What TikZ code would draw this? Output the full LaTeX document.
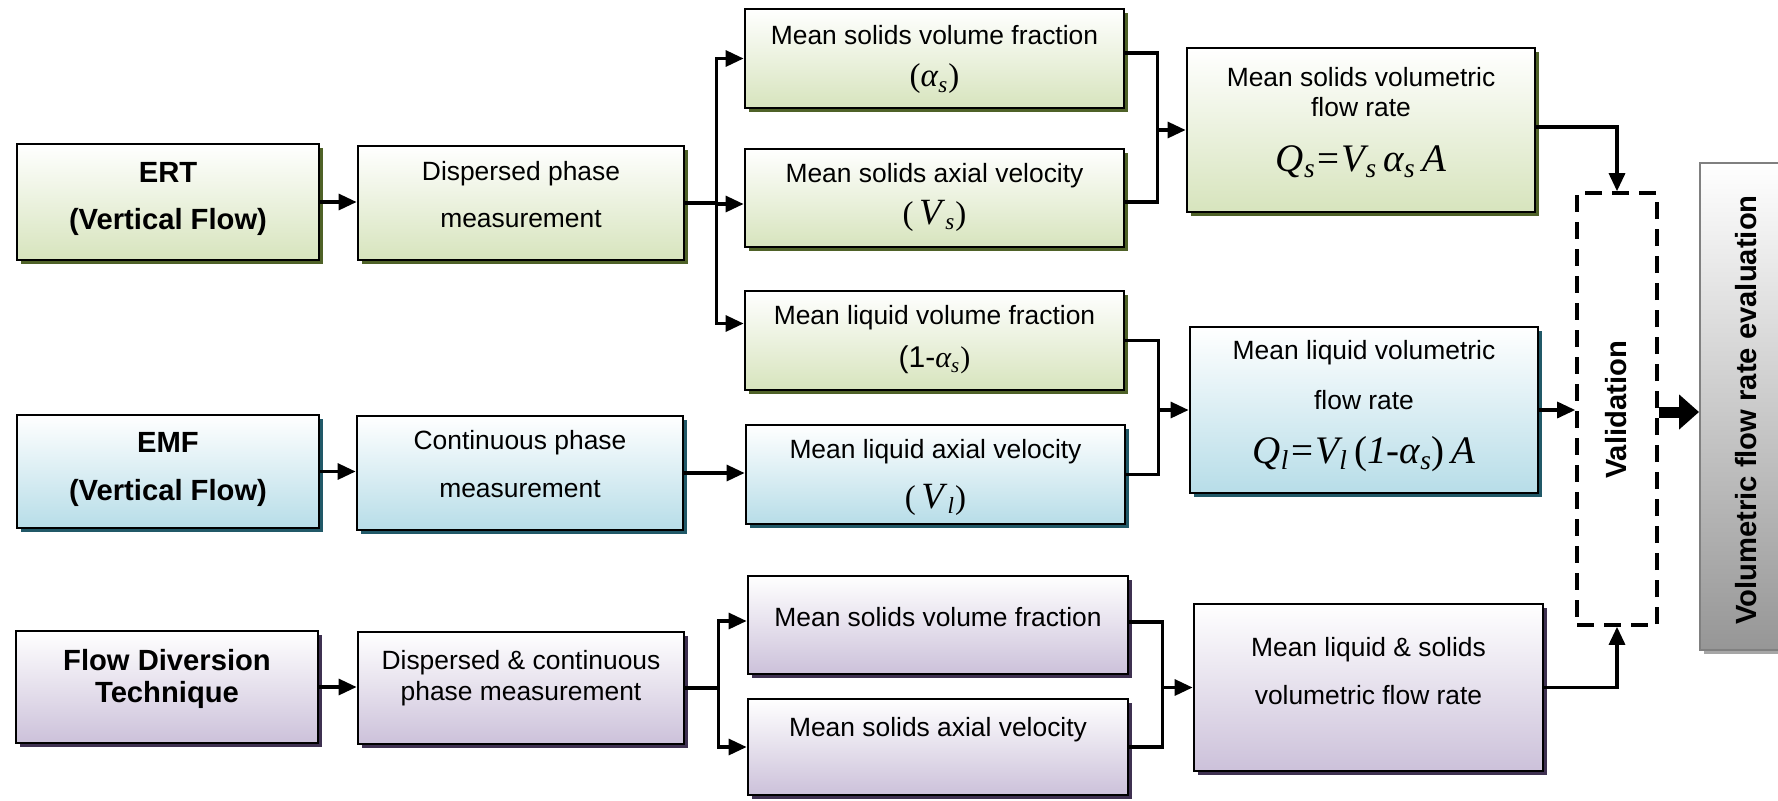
\documentclass[tikz,border=0pt]{standalone}
\usepackage{fontspec}
\setmainfont{Liberation Sans}
\newfontfamily\eqfont{Liberation Serif}
\usetikzlibrary{arrows.meta,fit,shadows}

\definecolor{grnfill}{HTML}{D7E4BD}
\definecolor{grnshad}{HTML}{4F6228}
\definecolor{blufill}{HTML}{B7DDE8}
\definecolor{blushad}{HTML}{215968}
\definecolor{purfill}{HTML}{CCC1DA}
\definecolor{purshad}{HTML}{3F3151}
\definecolor{gryfill}{HTML}{969696}
\definecolor{gryline}{HTML}{808080}
\definecolor{gryshad}{HTML}{A6A6A6}

\newcommand\sbs[1]{\textsubscript{#1}}

\tikzset{
  panel/.style={draw=black, line width=1.4pt, inner sep=0pt},
  greenbox/.style={panel, top color=white, bottom color=grnfill,
    drop shadow={shadow xshift=2pt, shadow yshift=-2pt, fill=grnshad, opacity=1}},
  bluebox/.style={panel, top color=white, bottom color=blufill,
    drop shadow={shadow xshift=2pt, shadow yshift=-2pt, fill=blushad, opacity=1}},
  purplebox/.style={panel, top color=white, bottom color=purfill,
    drop shadow={shadow xshift=2pt, shadow yshift=-2pt, fill=purshad, opacity=1}},
  greybox/.style={draw=gryline, line width=1pt, inner sep=0pt, top color=white, bottom color=gryfill,
    drop shadow={shadow xshift=2pt, shadow yshift=-2pt, fill=gryshad, opacity=1}},
  dashbox/.style={draw=black, line width=1.8pt, dash pattern=on 8.5pt off 5pt, inner sep=0pt},
  txt/.style={inner sep=0pt, font=\fontsize{13.2}{16}\selectfont},
  btxt/.style={inner sep=0pt, font=\fontsize{14.6}{17}\selectfont\bfseries},
  eqtxt/.style={inner sep=0pt, font=\fontsize{19.5}{22}\selectfont\eqfont\itshape},
  symtxt/.style={inner sep=0pt, font=\fontsize{16.5}{19}\selectfont\eqfont},
  wire/.style={line width=1.6pt},
  conn/.style={wire, -{Triangle[length=9pt,width=8pt]}},
  bigarrow/.style={line width=5.5pt, -{Triangle[length=10pt,width=17pt]}},
}

\begin{document}
\begin{tikzpicture}[x=0.5pt, y=-0.5pt]
\useasboundingbox (0,0) rectangle (1778,800);
\clip (0,0) rectangle (1778,800);

% ---- boxes ----
\node[greenbox, fit={(17,144) (319,260)}] (ert) {};
\node[greenbox, fit={(358,146) (684,260)}] (dpm) {};
\node[greenbox, fit={(745,9) (1124,108)}] (msvf) {};
\node[greenbox, fit={(745,149) (1124,247)}] (msav) {};
\node[greenbox, fit={(745,291) (1124,390)}] (mlvf) {};
\node[bluebox, fit={(746,425) (1125,524)}] (mlav) {};
\node[greenbox, fit={(1187,48) (1535,212)}] (msvfr) {};
\node[bluebox, fit={(1190,327) (1538,493)}] (mlvfr) {};
\node[bluebox, fit={(17,415) (319,528)}] (emf) {};
\node[bluebox, fit={(357,416) (683,530)}] (cpm) {};
\node[purplebox, fit={(16,631) (318,743)}] (fdt) {};
\node[purplebox, fit={(358,632) (684,744)}] (dcpm) {};
\node[purplebox, fit={(748,576) (1128,674)}] (msvf2) {};
\node[purplebox, fit={(748,699) (1128,795)}] (msav2) {};
\node[purplebox, fit={(1194,604) (1543,771)}] (mlsvfr) {};
\node[dashbox, fit={(1577,193) (1657,625)}] (valid) {};
\node[greybox, fit={(1700,163) (1800,650)}] (vfre) {};

% ---- texts ----
\node[btxt] (ert-a) at (168,172) {ERT};
\node[btxt] (ert-b) at (168,222) {(Vertical Flow)};
\node[txt] (dpm-a) at (521,174) {Dispersed phase};
\node[txt] (dpm-b) at (521,219) {measurement};

\node[txt] (msvf-a) at (934.5,35) {Mean solids volume fraction};
\node[symtxt] (msvf-b) at (934.5,79) {(\textit{α}\sbs{\textit{s}})};
\node[txt] (msav-a) at (934.5,176) {Mean solids axial velocity};
\node[symtxt] (msav-b) at (934.5,216) {(\,{\fontsize{18.5}{20}\selectfont\textit{V}}\sbs{\textit{s}})};
\node[txt] (mlvf-a) at (934.5,318) {Mean liquid volume fraction};
\node[txt, font=\fontsize{15}{18}\selectfont] (mlvf-b) at (934.5,360) {(1-{\eqfont\itshape α\sbs{s}}{\eqfont)}};
\node[txt] (mlav-a) at (935.5,452) {Mean liquid axial velocity};
\node[symtxt] (mlav-b) at (935.5,500) {(\,{\fontsize{18.5}{20}\selectfont\textit{V}}\sbs{\textit{l}})};

\node[txt] (msvfr-a) at (1361,77) {Mean solids volumetric};
\node[txt] (msvfr-b) at (1361,107) {flow rate};
\node[eqtxt] (msvfr-c) at (1361,162) {Q\sbs{s}\kern1pt{\upshape=}\kern1pt V\sbs{s}\,α\sbs{s}\,A};
\node[txt] (mlvfr-a) at (1364,353) {Mean liquid volumetric};
\node[txt] (mlvfr-b) at (1364,400) {flow rate};
\node[eqtxt] (mlvfr-c) at (1364,454) {Q\sbs{l}\kern1pt{\upshape=}\kern1pt V\sbs{l}\,{\upshape(}1-α\sbs{s}{\upshape)}\,A};

\node[btxt] (emf-a) at (168,442) {EMF};
\node[btxt] (emf-b) at (168,493) {(Vertical Flow)};
\node[txt] (cpm-a) at (520,443) {Continuous phase};
\node[txt] (cpm-b) at (520,489) {measurement};

\node[btxt] (fdt-a) at (167,660) {Flow Diversion};
\node[btxt] (fdt-b) at (167,695) {Technique};
\node[txt] (dcpm-a) at (521,663) {Dispersed \& continuous};
\node[txt] (dcpm-b) at (521,694) {phase measurement};
\node[txt] (msvf2-a) at (938,617) {Mean solids volume fraction};
\node[txt] (msav2-a) at (938,730) {Mean solids axial velocity};
\node[txt] (mlsvfr-a) at (1368.5,650) {Mean liquid \& solids};
\node[txt] (mlsvfr-b) at (1368.5,695) {volumetric flow rate};

\node[btxt, rotate=90] (valid-a) at (1616,410) {Validation};
\node[btxt, rotate=90] (vfre-a) at (1746,410) {Volumetric flow rate evaluation};

% ---- connectors: ERT row ----
\draw[conn] (ert.east) -- (ert.east -| dpm.west);
\draw[wire] (dpm.east) -- ++(31,0) coordinate (jA);
\draw[conn] (jA) |- (msvf.west);
\draw[conn] (jA) |- ([yshift=-3pt]msav.west);
\draw[conn] (jA) |- ([yshift=8.5pt]mlvf.west);
\draw[wire] ([yshift=2.75pt]msvf.east) -- ++(32,0) coordinate (jB) |- ([yshift=-2pt]msav.east);
\draw[conn] (jB |- msvfr.west) -- (msvfr.west);
\draw[wire] (mlvf.east) -- ++(33,0) coordinate (jC) |- (mlav.east);
\draw[conn] (jC |- mlvfr.west) -- (mlvfr.west);

% ---- connectors: EMF row ----
\draw[conn] (emf.east) -- (emf.east -| cpm.west);
\draw[conn] (cpm.east) -- (cpm.east -| mlav.west);

% ---- connectors: flow diversion row ----
\draw[conn] (fdt.east) -- (fdt.east -| dcpm.west);
\draw[wire] (dcpm.east) -- ++(33,0) coordinate (jD);
\draw[conn] (jD) |- ([yshift=2pt]msvf2.west);
\draw[conn] (jD) |- (msav2.west);
\draw[wire] ([yshift=1.5pt]msvf2.east) -- ++(33,0) coordinate (jE) |- (msav2.east);
\draw[conn] (jE |- mlsvfr.west) -- (mlsvfr.west);

% ---- validation ----
\draw[conn] ([yshift=1.5pt]msvfr.east) -| (valid.north);
\draw[conn] (mlvfr.east) -- (mlvfr.east -| valid.west);
\draw[conn] (mlsvfr.east) -| (valid.south);
\draw[bigarrow] ([yshift=-1.5pt]valid.east) -- ([yshift=-1.5pt]valid.east -| vfre.west);
\end{tikzpicture}
\end{document}
